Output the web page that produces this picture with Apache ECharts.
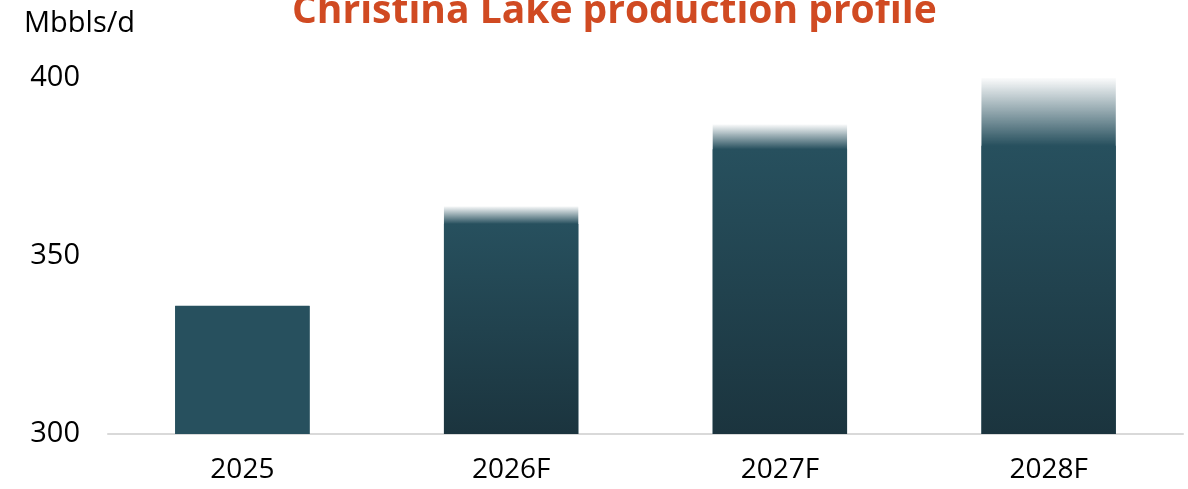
<!DOCTYPE html>
<html>
<head>
<meta charset="utf-8">
<script src="https://cdn.jsdelivr.net/npm/echarts@6/dist/echarts.min.js"></script>
<style>
  html, body { margin: 0; padding: 0; background: #fff; }
  #chart { width: 1188px; height: 489px; }
</style>
</head>
<body>
<div id="chart"></div>
<script>
// values (Mbbls/d)
var years = ['2025', '2026F', '2027F', '2028F']
var baseValues = [336, 359, 380, 381]   // solid part of each bar
var rangeTop = [336, 364, 387, 400]     // top of the faded range
var yTicks = [300, 350, 400]

var chart = echarts.init(document.getElementById('chart'))

var solidColor = '#27505e'
var darkColor = '#1b343e'
var axisMin = yTicks[0]

var baseData = baseValues.map(function (v, i) {
  if (i === 0) {
    return { value: v, itemStyle: { color: solidColor } }
  }
  return {
    value: v,
    itemStyle: {
      color: new echarts.graphic.LinearGradient(0, 0, 0, 1, [
        { offset: 0, color: solidColor },
        { offset: 1, color: darkColor }
      ])
    }
  }
})

// full-height bar behind, fading out only over the range part (avoids a seam)
var rangeData = rangeTop.map(function (v, i) {
  var f = (v - baseValues[i]) / (v - axisMin)
  return {
    value: v,
    itemStyle: {
      color: new echarts.graphic.LinearGradient(0, 0, 0, 1, [
        { offset: 0, color: 'rgba(39,80,94,0.02)' },
        { offset: f, color: solidColor },
        { offset: 1, color: solidColor }
      ])
    }
  }
})

chart.setOption({
  animation: false,
  title: [{
    text: 'Christina Lake production profile',
    left: 287,
    top: -13,
    textStyle: {
      fontFamily: 'Open Sans',
      fontWeight: 'bold',
      fontSize: 39,
      color: '#d04a22'
    }
  }, {
    text: 'Mbbls/d',
    left: 19,
    top: 4,
    textStyle: {
      fontFamily: 'Open Sans',
      fontWeight: 'normal',
      fontSize: 29,
      color: '#000'
    }
  }],
  grid: {
    left: 108,
    right: 5,
    top: 78,
    bottom: 55
  },
  xAxis: {
    type: 'category',
    data: years,
    axisTick: { show: false },
    axisLine: {
      show: true,
      lineStyle: { color: '#d9d9d9', width: 2 }
    },
    axisLabel: {
      fontFamily: 'Open Sans',
      fontSize: 28,
      color: '#000',
      margin: 22
    }
  },
  yAxis: {
    type: 'value',
    min: axisMin,
    max: yTicks[yTicks.length - 1],
    interval: 50,
    axisLine: { show: false },
    axisTick: { show: false },
    splitLine: { show: false },
    axisLabel: {
      fontFamily: 'Open Sans',
      fontSize: 29,
      color: '#000',
      margin: 28
    }
  },
  series: [{
    name: 'range',
    type: 'bar',
    barWidth: '50%',
    barGap: '-100%',
    z: 1,
    data: rangeData
  }, {
    name: 'base',
    type: 'bar',
    barWidth: '50%',
    barGap: '-100%',
    z: 2,
    data: baseData
  }]
})
</script>
</body>
</html>
